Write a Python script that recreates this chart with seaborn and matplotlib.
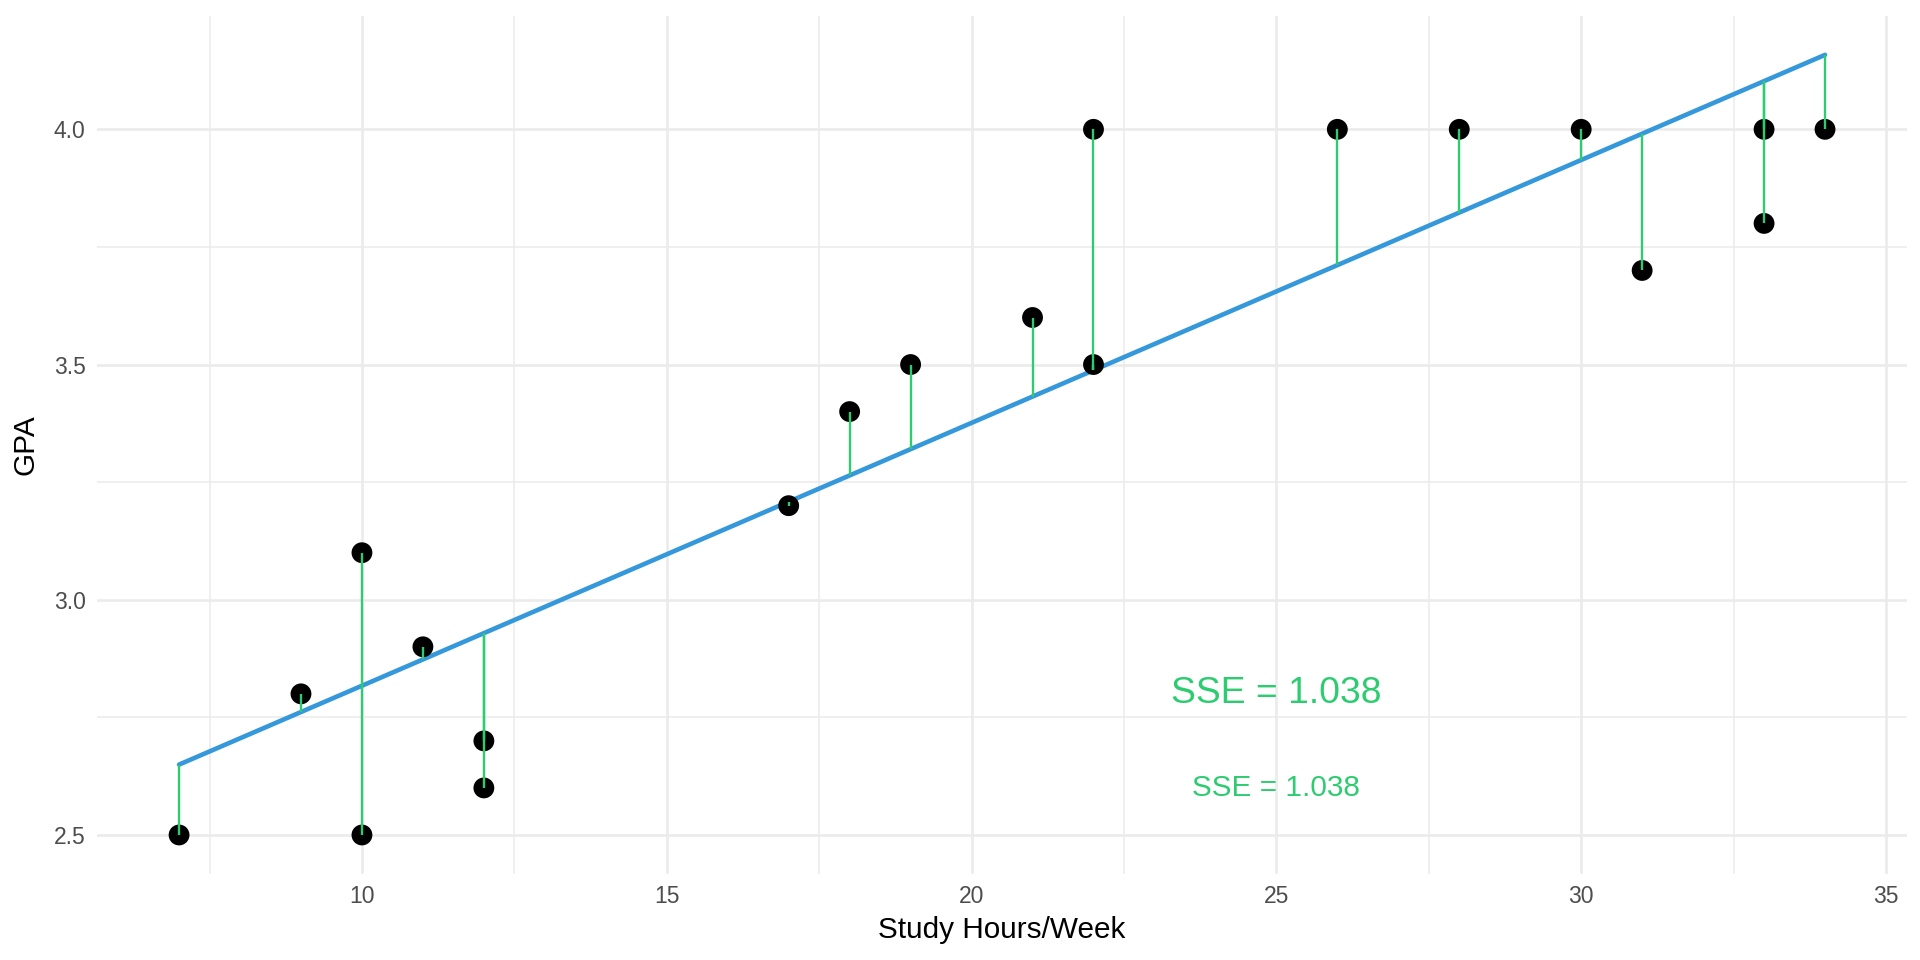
import numpy as np
import pandas as pd
import matplotlib
matplotlib.use("Agg")
import matplotlib.pyplot as plt
import seaborn as sns

# Data
study_hours = [7, 9, 10, 10, 11, 12, 12, 17, 18, 19, 21, 22, 22, 26, 28, 30, 31, 33, 33, 34]
gpa = [2.5, 2.8, 3.1, 2.5, 2.9, 2.7, 2.6, 3.2, 3.4, 3.5, 3.6, 4.0, 3.5, 4.0, 4.0, 4.0, 3.7, 4.0, 3.8, 4.0]
x_ticks = [10, 15, 20, 25, 30, 35]
y_ticks = [2.5, 3.0, 3.5, 4.0]
annot_labels = ["SSE = 1.038", "SSE = 1.038"]
annot_x = [25, 25]
annot_y = [2.8, 2.6]

df = pd.DataFrame({"hours": study_hours, "gpa": gpa})
slope, intercept = np.polyfit(df["hours"], df["gpa"], 1)
df["fit"] = intercept + slope * df["hours"]

GREEN = "#2ECC71"
BLUE = "#3498DB"

sns.set_theme(style="white")
plt.rcParams["font.family"] = ["Liberation Sans", "DejaVu Sans"]

fig = plt.figure(figsize=(19.2, 9.6), dpi=100)
ax = fig.add_axes([0.0504, 0.0896, 0.9430, 0.8939])

# Fitted line
xs = np.array([df["hours"].min(), df["hours"].max()])
line_df = pd.DataFrame({"hours": xs, "fit": intercept + slope * xs})
sns.lineplot(data=line_df, x="hours", y="fit", color=BLUE, linewidth=3.3, ax=ax, zorder=3)

# Points
sns.scatterplot(data=df, x="hours", y="gpa", color="black", s=225, edgecolor="none", ax=ax, zorder=4)

# Residual segments
ax.vlines(df["hours"], df["fit"], df["gpa"], color=GREEN, linewidth=1.7, zorder=5)

# Annotations
ax.text(annot_x[0], annot_y[0], annot_labels[0], color=GREEN, fontsize=26.8,
        ha="center", va="center", zorder=6)
ax.text(annot_x[1], annot_y[1], annot_labels[1], color=GREEN, fontsize=21.4,
        ha="center", va="center", zorder=6)

# Limits (ggplot-like 5% expansion)
xmin, xmax = df["hours"].min(), df["hours"].max()
xr = xmax - xmin
ax.set_xlim(xmin - 0.05 * xr, xmax + 0.05 * xr)
ymin = min(df["gpa"].min(), df["fit"].min())
ymax = max(df["gpa"].max(), df["fit"].max())
yr = ymax - ymin
ax.set_ylim(ymin - 0.05 * yr, ymax + 0.05 * yr)

ax.set_xticks(x_ticks)
ax.set_yticks(y_ticks)
ax.set_xticklabels([str(t) for t in x_ticks])
ax.set_yticklabels([f"{t:.1f}" for t in y_ticks])
ax.set_xticks([7.5, 12.5, 17.5, 22.5, 27.5, 32.5], minor=True)
ax.set_yticks([2.75, 3.25, 3.75], minor=True)

ax.grid(which="major", color="#EBEBEB", linewidth=1.9)
ax.grid(which="minor", color="#EBEBEB", linewidth=1.1)
ax.set_axisbelow(True)
for s in ax.spines.values():
    s.set_visible(False)

ax.tick_params(axis="both", which="both", length=0, labelsize=16.5, labelcolor="#4D4D4D")
ax.tick_params(axis="x", pad=8)
ax.tick_params(axis="y", pad=8)

ax.set_xlabel("Study Hours/Week", fontsize=21.4, color="black", labelpad=6)
ax.set_ylabel("GPA", fontsize=21.4, color="black", labelpad=10)

fig.savefig("out.png", dpi=100, facecolor="white")
